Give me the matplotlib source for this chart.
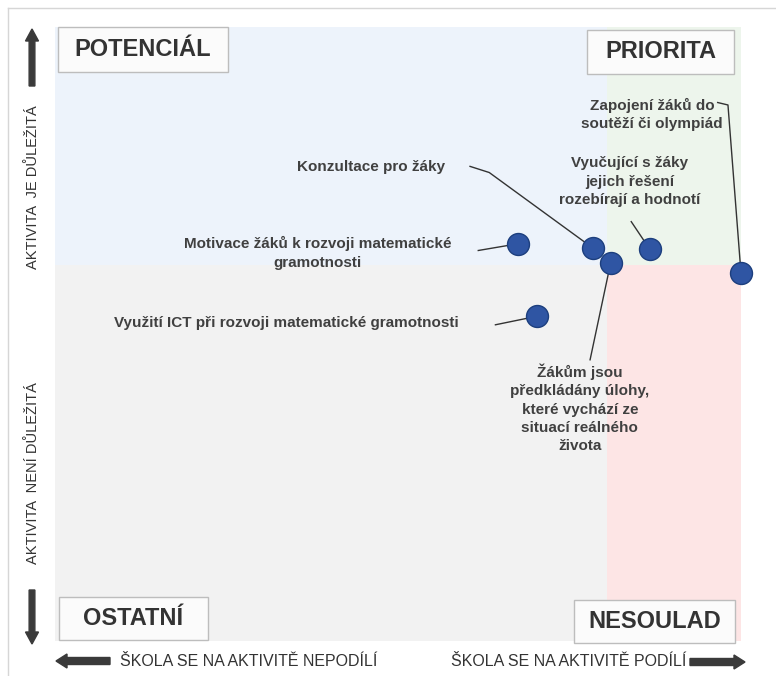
import matplotlib
matplotlib.use('Agg')
import matplotlib.pyplot as plt
from matplotlib.patches import Rectangle, FancyArrow

# activities and their position in the matrix
activities = ['Motivace žáků k rozvoji matematické\ngramotnosti',
              'Konzultace pro žáky',
              'Vyučující s žáky\njejich řešení\nrozebírají a hodnotí',
              'Žákům jsou\npředkládány úlohy,\nkteré vychází ze\nsituací reálného\nživota',
              'Zapojení žáků do\nsoutěží či olympiád',
              'Využití ICT při rozvoji matematické gramotnosti']
participation = [67.5, 78.4, 86.7, 81.0, 100.0, 70.3]
importance = [64.7, 64.0, 63.8, 61.6, 59.9, 52.9]
x_split = 80.5
y_split = 61.2

quadrants = ['POTENCIÁL', 'PRIORITA', 'OSTATNÍ', 'NESOULAD']
x_texts = ['ŠKOLA SE NA AKTIVITĚ NEPODÍLÍ', 'ŠKOLA SE NA AKTIVITĚ PODÍLÍ']
y_texts = ['AKTIVITA  JE DŮLEŽITÁ', 'AKTIVITA  NENÍ DŮLEŽITÁ']

W, H = 776, 676
def fx(px):
    return px / W
def fy(py):
    return 1 - py / H

fig = plt.figure(figsize=(7.76, 6.76), dpi=100)
fig.patch.set_facecolor('white')

# outer frame
fig.add_artist(plt.Line2D([fx(8), 1], [fy(7.5), fy(7.5)], color='#d6d6d6', lw=1))
fig.add_artist(plt.Line2D([fx(8), fx(8)], [fy(7.5), 0], color='#d6d6d6', lw=1))

ax = fig.add_axes([fx(55), fy(641), 686 / W, 614 / H])
ax.set_xlim(0, 100)
ax.set_ylim(0, 100)
ax.axis('off')

# quadrant backgrounds
ax.add_patch(Rectangle((0, y_split), x_split, 100 - y_split, color='#edf3fb', lw=0, zorder=0))
ax.add_patch(Rectangle((x_split, y_split), 100 - x_split, 100 - y_split, color='#edf5ec', lw=0, zorder=0))
ax.add_patch(Rectangle((0, 0), x_split, y_split, color='#f2f2f2', lw=0, zorder=0))
ax.add_patch(Rectangle((x_split, 0), 100 - x_split, y_split, color='#fde5e5', lw=0, zorder=0))

# labels with leader lines (positions in data coords)
lab_pos = [(38.3, 63.2), (46.1, 77.2), (83.8, 74.8), (76.5, 37.9), (87.0, 85.8), (33.8, 51.8)]
leaders = [[(61.7, 63.6)],
           [(60.5, 77.3), (63.3, 76.3)],
           [(84.0, 68.3)],
           [(78.0, 45.8)],
           [(96.6, 87.7), (98.1, 87.3)],
           [(64.2, 51.5)]]
lab_font = dict(fontsize=11, fontweight='bold', color='#404040', family='Liberation Sans',
                ha='center', va='center', linespacing=1.4)
for i in range(len(activities)):
    ax.text(lab_pos[i][0], lab_pos[i][1], activities[i], **lab_font)
    xs = [p[0] for p in leaders[i]] + [participation[i]]
    ys = [p[1] for p in leaders[i]] + [importance[i]]
    ax.plot(xs, ys, color='#333333', lw=1, zorder=2, clip_on=False)

ax.scatter(participation, importance, s=250, color='#2f55a3', edgecolors='#1d3f7e',
           linewidths=1, zorder=3, clip_on=False)

# quadrant boxes
boxes = [(58, 27, 228, 72), (587, 30, 734, 74), (59, 597, 208, 640), (574, 600, 735, 643)]
for name, (x0, y0, x1, y1) in zip(quadrants, boxes):
    fig.add_artist(Rectangle((fx(x0), fy(y1)), fx(x1) - fx(x0), fy(y0) - fy(y1),
                             facecolor='#fbfbfb', edgecolor='#bdbdbd', lw=1,
                             transform=fig.transFigure, zorder=5))
    fig.text(fx((x0 + x1) / 2), fy((y0 + y1) / 2), name, fontsize=17, fontweight='bold',
             color='#333333', family='Liberation Sans', ha='center', va='center', zorder=6)

# direction arrows
arr = dict(transform=fig.transFigure, color='#3a3a3a', length_includes_head=True)
fig.add_artist(FancyArrow(fx(32), fy(86), 0, fy(29) - fy(86), width=5 / H,
                          head_width=13 / W, head_length=12 / H, **arr))
fig.add_artist(FancyArrow(fx(32), fy(590), 0, fy(644) - fy(590), width=5 / H,
                          head_width=13 / W, head_length=12 / H, **arr))
fig.add_artist(FancyArrow(fx(110), fy(661), fx(56) - fx(110), 0, width=7 / H,
                          head_width=14 / H, head_length=11 / W, **arr))
fig.add_artist(FancyArrow(fx(690), fy(662), fx(745) - fx(690), 0, width=7 / H,
                          head_width=14 / H, head_length=11 / W, **arr))

axis_font = dict(fontsize=11.5, color='#333333', family='Liberation Sans')
fig.text(fx(120), fy(661), x_texts[0], ha='left', va='center', **axis_font)
fig.text(fx(686), fy(661), x_texts[1], ha='right', va='center', **axis_font)
fig.text(fx(33), fy(187), y_texts[0], ha='center', va='center', rotation=90, fontsize=10.5,
         color='#333333', family='Liberation Sans')
fig.text(fx(33), fy(473), y_texts[1], ha='center', va='center', rotation=90, fontsize=10.5,
         color='#333333', family='Liberation Sans')

fig.savefig('out.png', dpi=100)
